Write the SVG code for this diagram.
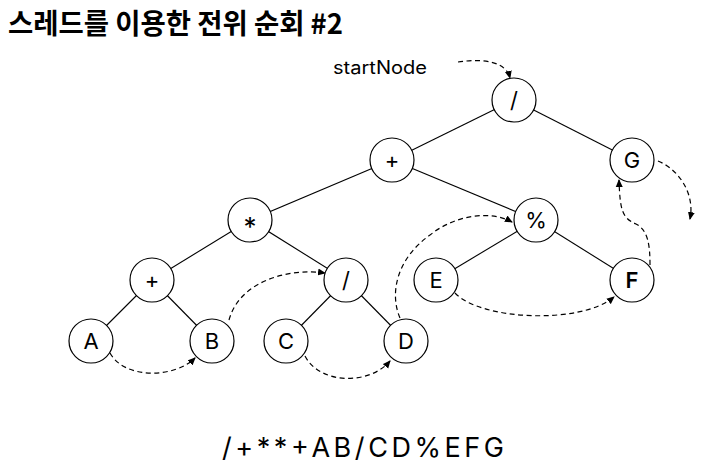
<svg xmlns="http://www.w3.org/2000/svg" width="702" height="468" viewBox="0 0 702 468">
<style>
.edge{stroke:#000;stroke-width:1.1;fill:none}
.thr{stroke:#000;stroke-width:1.2;fill:none;stroke-dasharray:5 3.5;marker-end:url(#ah)}
.node circle{fill:#fff;stroke:#000;stroke-width:1.2}
.node text{font-family:Inter,"Noto Sans",sans-serif;font-size:22px;text-anchor:middle;fill:#000}
</style>
<defs>
<marker id="ah" markerWidth="8" markerHeight="8" refX="7" refY="4" orient="auto" markerUnits="userSpaceOnUse">
<path d="M0,0.5 L8,4 L0,7.5 Z" fill="#000"/>
</marker>
</defs>
<rect width="702" height="468" fill="#fff"/>
<text x="8" y="34" font-family="'Noto Sans CJK KR',sans-serif" font-size="28" font-weight="700" textLength="335" lengthAdjust="spacingAndGlyphs">스레드를 이용한 전위 순회 #2</text>
<text x="333" y="74" font-family="Inter,'Noto Sans',sans-serif" font-size="18" textLength="94" lengthAdjust="spacingAndGlyphs">startNode</text>
<g id="connectors">
<line class="edge" x1="514" y1="100" x2="392" y2="160"/>
<line class="edge" x1="514" y1="100" x2="632" y2="160"/>
<line class="edge" x1="392" y1="160" x2="250" y2="220"/>
<line class="edge" x1="392" y1="160" x2="536" y2="220"/>
<line class="edge" x1="250" y1="220" x2="152" y2="280"/>
<line class="edge" x1="250" y1="220" x2="346" y2="280"/>
<line class="edge" x1="152" y1="280" x2="91" y2="341"/>
<line class="edge" x1="152" y1="280" x2="212" y2="341"/>
<line class="edge" x1="346" y1="280" x2="286" y2="341"/>
<line class="edge" x1="346" y1="280" x2="406" y2="341"/>
<line class="edge" x1="536" y1="220" x2="436" y2="280"/>
<line class="edge" x1="536" y1="220" x2="632" y2="280"/>
<path class="thr" d="M458,62 C485,58 506,62 510,78"/>
<path class="thr" d="M110,353 C125,380 175,378 195,358"/>
<path class="thr" d="M229,320 C240,280 290,268 325,273"/>
<path class="thr" d="M305,356 C320,385 370,385 390,361"/>
<path class="thr" d="M400,318 C390,295 395,260 430,235 C455,215 490,210 512,222"/>
<path class="thr" d="M455,293 C480,320 580,325 614,297"/>
<path class="thr" d="M650,265 C650,245 648,230 636,224 C622,218 620,210 619,180"/>
<path class="thr" d="M658,161 C680,170 695,195 690,219"/>
</g>
<g id="n-root" class="node"><circle cx="514" cy="100" r="22"/><text x="514" y="108">/</text></g>
<g id="n-plus1" class="node"><circle cx="392" cy="160" r="22"/><text x="392" y="168">+</text></g>
<g id="n-G" class="node"><circle cx="632" cy="160" r="22"/><text x="632" y="168">G</text></g>
<g id="n-star" class="node"><circle cx="250" cy="220" r="22"/><text x="250" y="236" style="font-size:26px">*</text></g>
<g id="n-pct" class="node"><circle cx="536" cy="220" r="22"/><text x="536" y="228">%</text></g>
<g id="n-plus2" class="node"><circle cx="152" cy="280" r="22"/><text x="152" y="288">+</text></g>
<g id="n-slash2" class="node"><circle cx="346" cy="280" r="22"/><text x="346" y="288">/</text></g>
<g id="n-E" class="node"><circle cx="436" cy="280" r="22"/><text x="436" y="288">E</text></g>
<g id="n-F" class="node"><circle cx="632" cy="280" r="22"/><text x="632" y="288" font-weight="600">F</text></g>
<g id="n-A" class="node"><circle cx="91" cy="341" r="22"/><text x="91" y="349">A</text></g>
<g id="n-B" class="node"><circle cx="212" cy="341" r="22"/><text x="212" y="349">B</text></g>
<g id="n-C" class="node"><circle cx="286" cy="341" r="22"/><text x="286" y="349">C</text></g>
<g id="n-D" class="node"><circle cx="406" cy="341" r="22"/><text x="406" y="349">D</text></g>
<text x="222" y="457" font-family="Inter,'Noto Sans',sans-serif" font-size="27" textLength="282" lengthAdjust="spacing">/+**+AB/CD%EFG</text>
</svg>
